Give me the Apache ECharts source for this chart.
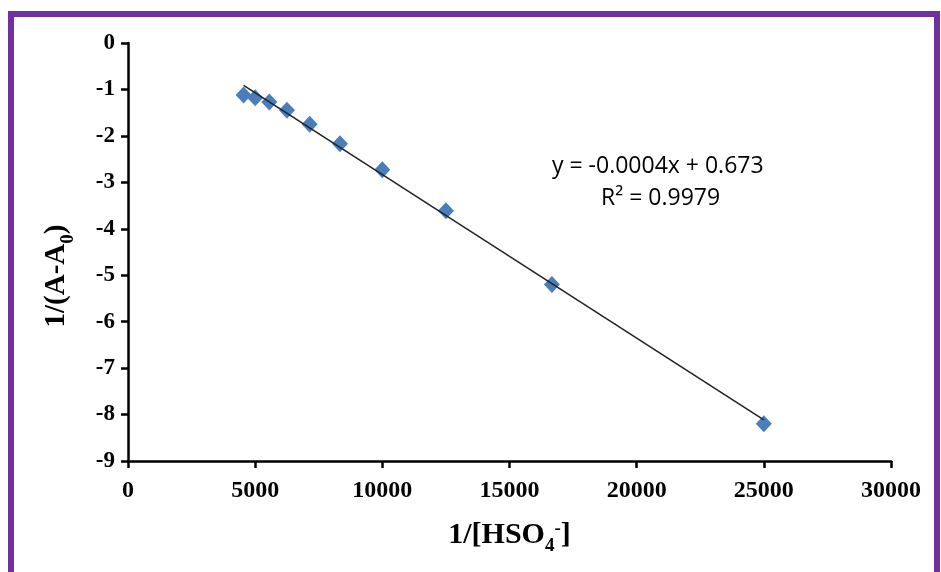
<!DOCTYPE html>
<html>
<head>
<meta charset="utf-8">
<script src="https://cdn.jsdelivr.net/npm/echarts@6/dist/echarts.min.js"></script>
<style>
html,body{margin:0;padding:0;background:#fff;}
#chart{width:941px;height:572px;}
</style>
</head>
<body>
<div id="chart"></div>
<script>
// Data
const xValues = [4545, 5000, 5556, 6250, 7143, 8333, 10000, 12500, 16667, 25000];
const yValues = [-1.12, -1.18, -1.27, -1.45, -1.75, -2.17, -2.73, -3.61, -5.20, -8.20];
const xTicks = [0, 5000, 10000, 15000, 20000, 25000, 30000];
const yTicks = [0, -1, -2, -3, -4, -5, -6, -7, -8, -9];
const equationText = 'y = -0.0004x + 0.673';
const r2Text = 'R² = 0.9979';

// least-squares trendline (as the spreadsheet does)
const n = xValues.length;
const mx = xValues.reduce((a, b) => a + b, 0) / n;
const my = yValues.reduce((a, b) => a + b, 0) / n;
let sxy = 0, sxx = 0;
for (let i = 0; i < n; i++) { sxy += (xValues[i] - mx) * (yValues[i] - my); sxx += (xValues[i] - mx) ** 2; }
const slope = sxy / sxx, intercept = my - slope * mx;
const xMin = Math.min(...xValues), xMax = Math.max(...xValues);
const trend = [[xMin, slope * xMin + intercept], [xMax, slope * xMax + intercept]];

const chart = echarts.init(document.getElementById('chart'));
const serif = '"Liberation Serif", "Times New Roman", serif';
const sansEq = '23px "Open Sans", sans-serif';
chart.setOption({
  animation: false,
  backgroundColor: '#fff',
  grid: { left: 128, right: 50, top: 43, bottom: 111 },
  xAxis: {
    type: 'value', min: xTicks[0], max: xTicks[xTicks.length - 1], interval: 5000,
    splitLine: { show: false },
    axisLine: { show: true, onZero: false, lineStyle: { color: '#000', width: 2.5 } },
    axisTick: { show: true, length: 7, lineStyle: { color: '#000', width: 2.5 } },
    axisLabel: { color: '#000', fontFamily: serif, fontWeight: 'bold', fontSize: 24, margin: 18,
      formatter: v => String(v) },
    name: '{b|1/[HSO}{s|4}{p|-}{b|]}',
    nameLocation: 'middle', nameGap: 59,
    nameTextStyle: {
      rich: {
        b: { fontFamily: serif, fontWeight: 'bold', fontSize: 30, color: '#000', lineHeight: 36, verticalAlign: 'top' },
        s: { fontFamily: serif, fontWeight: 'bold', fontSize: 19, color: '#000', lineHeight: 22, verticalAlign: 'bottom' },
        p: { fontFamily: serif, fontWeight: 'bold', fontSize: 19, color: '#000', lineHeight: 20, verticalAlign: 'top' }
      }
    }
  },
  yAxis: {
    type: 'value', min: yTicks[yTicks.length - 1], max: yTicks[0], interval: 1,
    splitLine: { show: false },
    axisLine: { show: true, onZero: false, lineStyle: { color: '#000', width: 2.5 } },
    axisTick: { show: true, length: 7, lineStyle: { color: '#000', width: 2.5 } },
    axisLabel: { color: '#000', fontFamily: serif, fontWeight: 'bold', fontSize: 23, margin: 13 },
    name: '{b|1/(A-A}{s|0}{b|)}',
    nameLocation: 'middle', nameGap: 50,
    nameTextStyle: {
      padding: [0, 48, 0, 0],
      rich: {
        b: { fontFamily: serif, fontWeight: 'bold', fontSize: 29, color: '#000', lineHeight: 36, verticalAlign: 'top' },
        s: { fontFamily: serif, fontWeight: 'bold', fontSize: 19, color: '#000', lineHeight: 22, verticalAlign: 'bottom' }
      }
    }
  },
  series: [
    {
      type: 'line', data: trend, symbol: 'none', silent: true,
      lineStyle: { color: '#222', width: 1.5 }, z: 3
    },
    {
      type: 'scatter', data: xValues.map((x, i) => [x, yValues[i]]),
      symbol: 'diamond', symbolSize: [16, 17],
      itemStyle: { color: '#4A7EBB', opacity: 1 }, z: 2
    }
  ],
  graphic: [
    { type: 'rect', shape: { x: 11, y: 14, width: 926, height: 600 }, style: { fill: 'none', stroke: '#7030A0', lineWidth: 6 }, silent: true },
    { type: 'text', x: 552, y: 166, style: { text: equationText, font: sansEq, fill: '#000', textVerticalAlign: 'middle', verticalAlign: 'middle' } },
    { type: 'text', x: 601, y: 198, style: { text: r2Text, font: sansEq, fill: '#000', textVerticalAlign: 'middle', verticalAlign: 'middle' } }
  ]
});
</script>
</body>
</html>
